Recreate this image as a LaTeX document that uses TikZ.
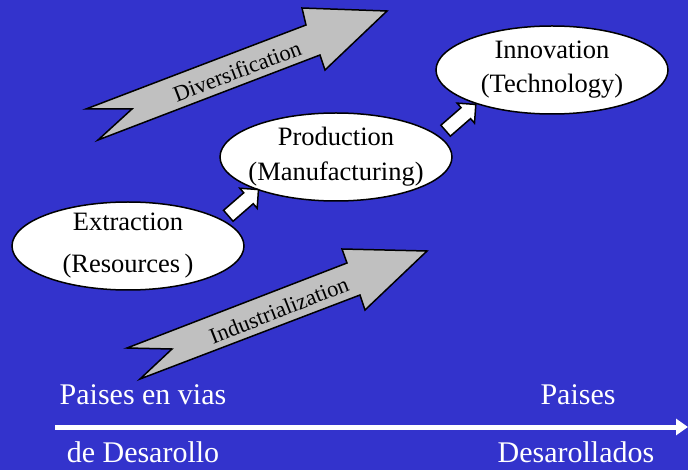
\documentclass[tikz,border=0pt]{standalone}
\usepackage{fontspec}
\setmainfont{Liberation Serif}
\usetikzlibrary{arrows.meta,shapes.geometric,shapes.arrows,calc}
\definecolor{slide_blue}{RGB}{51,51,204}
\definecolor{band_gray}{RGB}{192,192,192}
\tikzset{
        stage_n/.style = {ellipse, draw=black, fill=white, line width=1.5pt,
            minimum width=232pt, minimum height=88pt, inner xsep=-20pt, inner ysep=-14pt,
            align=center, font=\fontsize{26.5}{31}\selectfont},
        stage_arr/.style = {single arrow, draw=black, fill=white, line width=1.5pt,
            minimum height=40pt, inner xsep=0pt, inner ysep=6.5pt,
            single arrow head extend=6pt, rotate=41},
        band_arr/.style = {draw=black, fill=band_gray, line width=1.5pt},
        band_lbl/.style = {inner sep=0pt, font=\fontsize{22.5}{26}\selectfont},
        axis_lbl/.style = {inner sep=0pt, text=white, font=\fontsize{30}{36}\selectfont}
    }

\begin{document}
\begin{tikzpicture}[x=1pt, y=-1pt]
    \fill[slide_blue] (0,0) rectangle (688,470);
    \useasboundingbox (0,0) rectangle (688,470);
    % big bands
    \draw[band_arr] (86,109) -- (306,25) -- (302,8) -- (387,11) -- (325,70)
        -- (320,55) -- (98,140) -- (132,109) -- cycle;
    \node[band_lbl, rotate=21] (divers) at (237,71) {Diversification};
    \draw[band_arr] (127,348) -- (347,263) -- (342,249) -- (427,251) -- (365,310)
        -- (360,295) -- (140,379) -- (172,349) -- cycle;
    \node[band_lbl, rotate=21.5] (indust) at (279,310) {Industrialization};
    % stages
    \node[stage_n] (extract) at (128,246) {Extraction\\[11pt](Resources\,)};
    \node[stage_n] (produce) at (336,157) {Production\\[4pt](Manufacturing)};
    \node[stage_n] (innovate) at (552,70) {Innovation\\[3pt](Technology)};
    \node[stage_arr] (up_a) at ($(extract.16)!0.5!(produce.204)$) {};
    \node[stage_arr] (up_b) at ($(produce.12)!0.5!(innovate.205)$) {};
    % axis
    \coordinate (axis_w) at (55,427);
    \coordinate (axis_e) at (688,427);
    \draw[white, line width=5pt, -{Triangle[length=12pt, width=16pt]}] (axis_w) -- (axis_e);
    \node[axis_lbl] (dev_a) at (143,395) {Paises en vias};
    \node[axis_lbl] (dev_b) at (143,452) {de Desarollo};
    \node[axis_lbl] (rich_a) at (578,395) {Paises};
    \node[axis_lbl] (rich_b) at (576,452) {Desarollados};
\end{tikzpicture}
\end{document}
